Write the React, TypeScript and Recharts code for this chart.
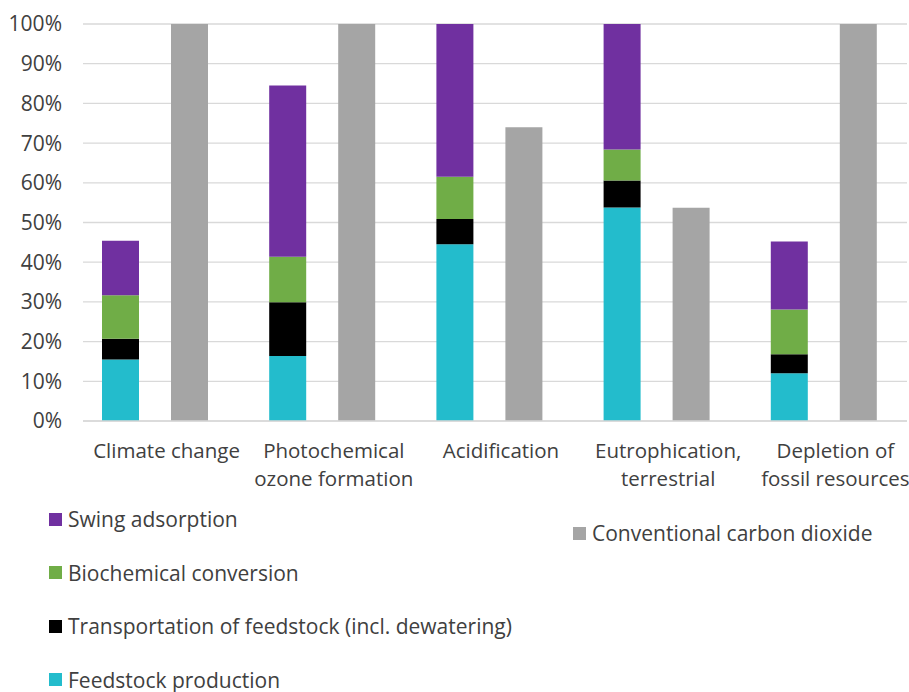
import { BarChart, Bar, XAxis, YAxis, CartesianGrid } from 'recharts'

// categories (line breaks as in the original axis labels)
const categories = [
  'Climate change',
  'Photochemical\nozone formation',
  'Acidification',
  'Eutrophication,\nterrestrial',
  'Depletion of\nfossil resources',
]

// values in % of the highest alternative
const feedstockProduction = [15.5, 16.4, 44.5, 53.8, 12.0]
const transportation = [5.2, 13.5, 6.4, 6.8, 4.8]
const biochemicalConversion = [11.0, 11.5, 10.6, 7.8, 11.3]
const swingAdsorption = [13.7, 43.1, 38.5, 31.6, 17.1]
const conventionalCO2 = [100, 100, 74.0, 53.7, 100]

const yTicks = [0, 10, 20, 30, 40, 50, 60, 70, 80, 90, 100]

const series = [
  { key: 'feedstock', name: 'Feedstock production', color: '#23BCCC', stack: 'a' },
  { key: 'transport', name: 'Transportation of feedstock (incl. dewatering)', color: '#000000', stack: 'a' },
  { key: 'biochem', name: 'Biochemical conversion', color: '#70AD47', stack: 'a' },
  { key: 'swing', name: 'Swing adsorption', color: '#7030A0', stack: 'a' },
  { key: 'conventional', name: 'Conventional carbon dioxide', color: '#A5A5A5', stack: 'b' },
]

const data = categories.map((name, i) => ({
  name,
  feedstock: feedstockProduction[i],
  transport: transportation[i],
  biochem: biochemicalConversion[i],
  swing: swingAdsorption[i],
  conventional: conventionalCO2[i],
}))

const FONT = "'Open Sans', sans-serif"
const TEXT = '#404040'

function CategoryTick(props: any) {
  const { x, y, payload } = props
  const lines = String(payload.value).split('\n')
  const cx = x + 12
  return (
    <text x={cx} y={y + 37} textAnchor="middle" fill={TEXT} fontSize={20.5} fontFamily={FONT}>
      {lines.map((line, i) => (
        <tspan key={i} x={cx} dy={i === 0 ? 0 : 28}>
          {line}
        </tspan>
      ))}
    </text>
  )
}

function LegendItem({ name, color }: { name: string; color: string }) {
  return (
    <div style={{ display: 'flex', alignItems: 'center', height: 28 }}>
      <div style={{ width: 13, height: 13, background: color, marginRight: 6 }} />
      <span style={{ lineHeight: '22px' }}>{name}</span>
    </div>
  )
}

export default function App() {
  const left = series.filter((s) => s.stack === 'a').slice().reverse()
  const right = series.filter((s) => s.stack === 'b')

  return (
    <div
      style={{
        position: 'absolute',
        left: 0,
        top: 0,
        width: 909,
        height: 692,
        overflow: 'hidden',
        background: '#fff',
        fontFamily: FONT,
      }}
    >
      <BarChart
        width={909}
        height={500}
        data={data}
        margin={{ top: 24, right: 2, left: 0, bottom: 0 }}
        barSize={37}
        barGap={32}
      >
        <CartesianGrid vertical={false} stroke="#d9d9d9" strokeWidth={1.3} />
        <XAxis
          dataKey="name"
          height={79}
          interval={0}
          tickLine={false}
          tickSize={0}
          tickMargin={0}
          axisLine={{ stroke: '#d9d9d9', strokeWidth: 1.3 }}
          padding={{ left: -12, right: 0 }}
          tick={<CategoryTick />}
        />
        <YAxis
          width={83}
          domain={[0, 100]}
          ticks={yTicks}
          interval={0}
          tickFormatter={(v) => `${v}%`}
          axisLine={false}
          tickLine={false}
          tickSize={0}
          tickMargin={21}
          tick={{ fill: TEXT, fontSize: 21, fontFamily: FONT }}
        />
        {series.map((s) => (
          <Bar
            key={s.key}
            dataKey={s.key}
            name={s.name}
            stackId={s.stack}
            fill={s.color}
            isAnimationActive={false}
          />
        ))}
      </BarChart>

      <div
        style={{
          position: 'absolute',
          left: 49,
          top: 505,
          fontSize: 21,
          color: TEXT,
          display: 'flex',
        }}
      >
        <div style={{ width: 524, display: 'flex', flexDirection: 'column', gap: 25.5 }}>
          {left.map((s) => (
            <LegendItem key={s.key} name={s.name} color={s.color} />
          ))}
        </div>
        <div style={{ paddingTop: 14 }}>
          {right.map((s) => (
            <LegendItem key={s.key} name={s.name} color={s.color} />
          ))}
        </div>
      </div>
    </div>
  )
}
